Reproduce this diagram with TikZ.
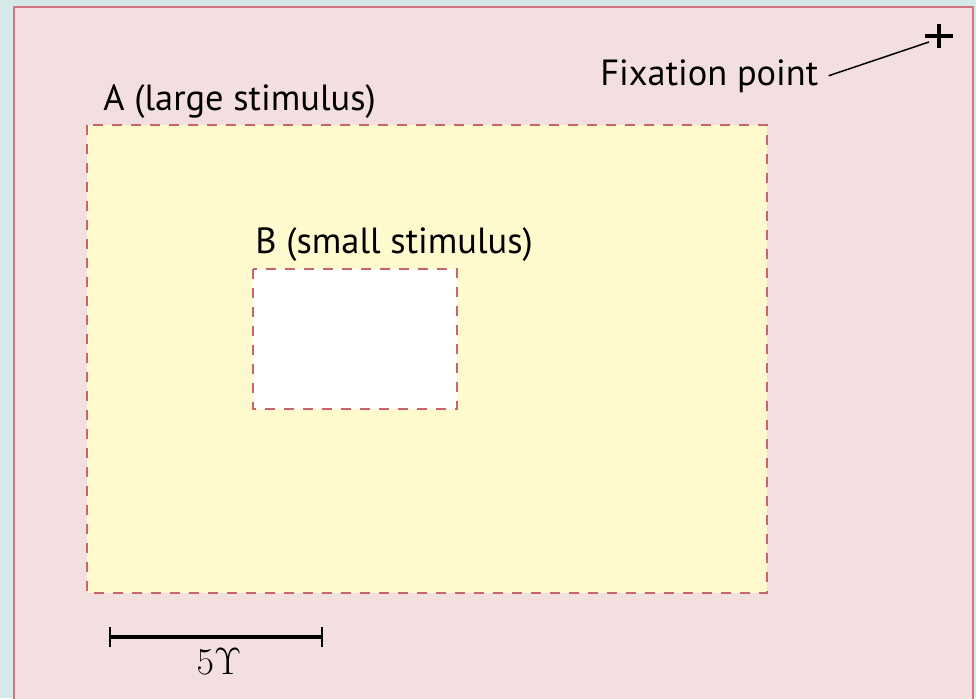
\documentclass[tikz,border=0pt]{standalone}
\usepackage{fix-cm}
\usepackage{fontspec}
\setmainfont{PT Sans}
\definecolor{screencyan}{RGB}{213,233,233}
\definecolor{fieldpink}{RGB}{244,223,224}
\definecolor{edgered}{RGB}{208,118,124}
\definecolor{dashred}{RGB}{200,100,110}
\definecolor{stimyellow}{RGB}{255,250,206}

\begin{document}
\begin{tikzpicture}[x=0.5pt,y=-0.5pt,
    stimedge/.style={draw=dashred,line width=1pt,dash pattern=on 5pt off 4.5pt},
    lbl/.style={font=\fontsize{18.2}{21}\selectfont,inner sep=0pt,anchor=base west}]
  \useasboundingbox (0,0) rectangle (976,698);
  \fill[screencyan] (0,0) rectangle (976,698);
  % Visual field
  \filldraw[fill=fieldpink,draw=edgered,line width=1pt] (14,7) rectangle (972.5,712);
  % Stimuli: large field A, small patch B
  \filldraw[fill=stimyellow,stimedge] (87,125) rectangle (767,593);
  \filldraw[fill=white,stimedge] (253,269) rectangle (457,409);
  \node[lbl] (bigA) at (103,110) {A (large stimulus)};
  \node[lbl] (smallB) at (255,253) {B (small stimulus)};
  % Fixation point
  \coordinate (fix) at (939,36);
  \draw[line width=2.3pt] ([shift={(-14,0)}]fix) -- ([shift={(14,0)}]fix)
                          ([shift={(0,-12)}]fix) -- ([shift={(0,12)}]fix);
  \node[lbl,inner xsep=5pt] (fixlbl) at (590,85) {Fixation point};
  \coordinate (fixtip) at (929,42);
  \draw[line width=0.75pt] (fixlbl.east) -- (fixtip);
  % Scale bar
  \coordinate (barL) at (110,637);
  \coordinate (barR) at (322,637);
  \draw[line width=2pt] (barL) -- (barR);
  \foreach \e in {barL,barR}
    \draw[line width=1pt] ([shift={(0,-10)}]\e) -- ([shift={(0,10)}]\e);
  \node[font=\fontsize{19}{22}\selectfont,inner sep=0pt,anchor=base] (barlbl)
    at (219,674) {$5\Upsilon$};
\end{tikzpicture}
\end{document}
